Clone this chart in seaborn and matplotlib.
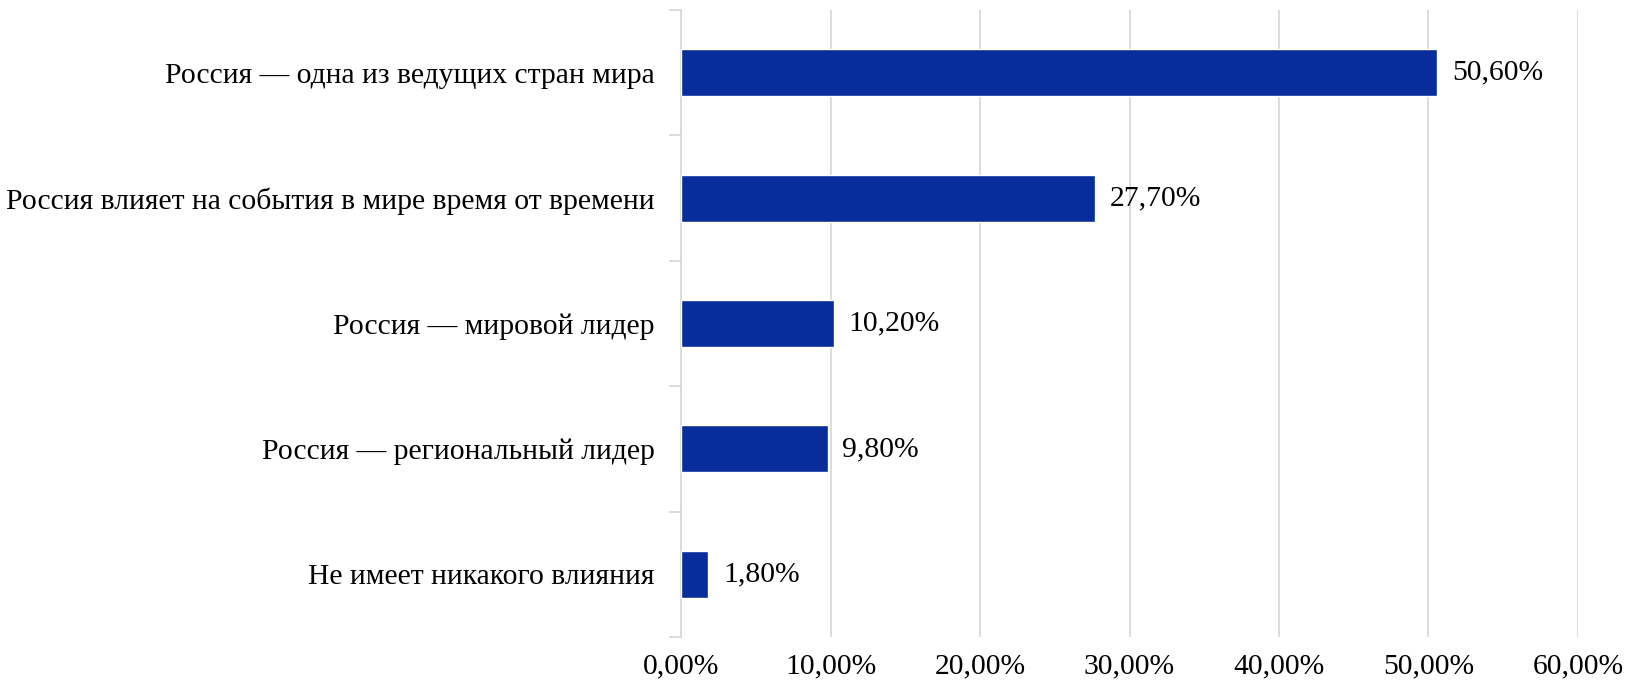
import matplotlib
matplotlib.use('Agg')
import matplotlib.pyplot as plt
import matplotlib.ticker as mticker
import seaborn as sns
import pandas as pd

categories = [
    'Россия — одна из ведущих стран мира',
    'Россия влияет на события в мире время от времени',
    'Россия — мировой лидер',
    'Россия — региональный лидер',
    'Не имеет никакого влияния',
]
values = [50.6, 27.7, 10.2, 9.8, 1.8]

df = pd.DataFrame({'Ответ': categories, 'Доля': values})

sns.set_style('white')
plt.rcParams['font.family'] = ['Liberation Serif', 'DejaVu Serif']
plt.rcParams['text.color'] = 'black'
plt.rcParams['xtick.color'] = 'black'
plt.rcParams['ytick.color'] = 'black'

fig, ax = plt.subplots(figsize=(16.32, 6.83), dpi=100)
fig.subplots_adjust(left=0.4173, right=0.9669, top=0.9854, bottom=0.0673)

sns.barplot(data=df, x='Доля', y='Ответ', color='#082C9A', width=0.375,
            saturation=1, ax=ax, zorder=3)

ax.set_xlim(0, 60)
ax.set_ylim(4.5, -0.5)
ax.xaxis.set_major_locator(mticker.MultipleLocator(10))
ax.xaxis.set_major_formatter(mticker.FuncFormatter(lambda v, p: f'{v:.2f}%'.replace('.', ',')))
ax.grid(axis='x', color='#D9D9D9', linewidth=1.3, zorder=0)
ax.set_xlabel('')
ax.set_ylabel('')

for s in ['top', 'right', 'bottom']:
    ax.spines[s].set_visible(False)
ax.spines['left'].set_color('#D9D9D9')
ax.spines['left'].set_linewidth(1.3)

ax.tick_params(axis='x', length=0, labelsize=21.3, pad=12, labelcolor='black')
ax.tick_params(axis='y', which='major', length=0, labelsize=21.3, pad=19, labelcolor='black')
ax.set_yticks([i + 0.5 for i in range(-1, 5)], minor=True)
ax.tick_params(axis='y', which='minor', left=True, length=9, color='#D9D9D9', width=1.3)

for i, v in enumerate(values):
    ax.text(v + 1.0, i, f'{v:.2f}%'.replace('.', ','), va='center', ha='left',
            fontsize=21.3, color='black')

plt.savefig('out.png', dpi=100)
